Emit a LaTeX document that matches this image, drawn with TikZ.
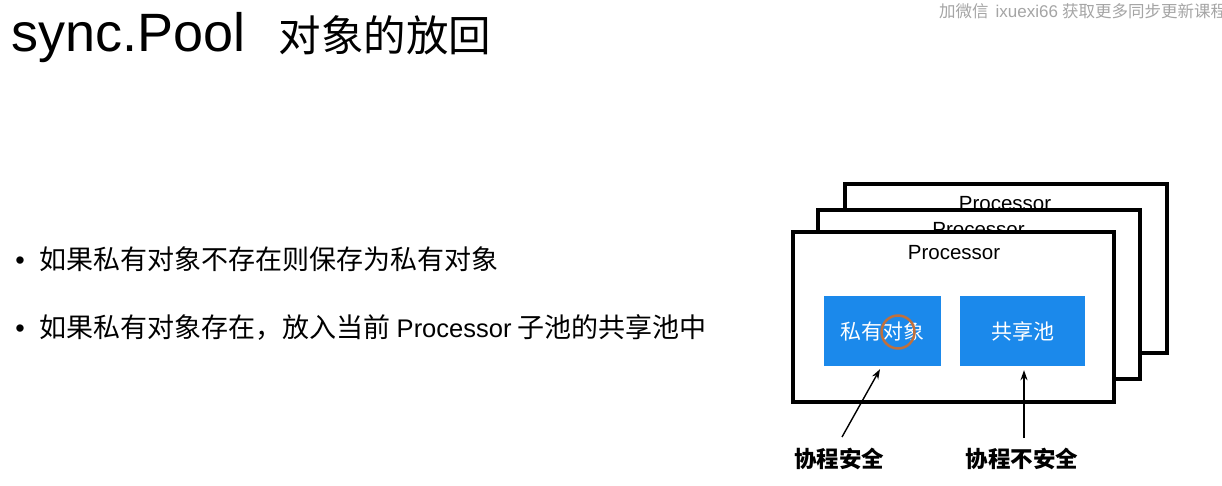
\documentclass[tikz,border=0pt]{standalone}
\usepackage{fontspec}
\setmainfont{Liberation Sans}
\newfontfamily\cjk{Noto Sans CJK SC}
\usetikzlibrary{arrows.meta}
\definecolor{boxblue}{RGB}{27,137,235}
\definecolor{ringcol}{RGB}{190,112,62}
\definecolor{wmcol}{RGB}{165,165,165}
\newcommand{\fs}[1]{\fontsize{#1}{#1}\selectfont}
\begin{document}
\begin{tikzpicture}[x=1pt,y=-1pt,
  procbox/.style={draw=black,line width=3.2pt,fill=white,minimum width=322pt,minimum height=169pt,inner sep=0pt},
  proclabel/.style={font=\fs{20.5},inner sep=0pt},
  bluebox/.style={fill=boxblue,text=white,font=\cjk\fs{21},minimum height=70pt,inner sep=0pt},
  safelabel/.style={font=\cjk\bfseries\fs{22.5},inner sep=0pt,anchor=base},
  bullettext/.style={font=\cjk\fs{27},inner sep=0pt,anchor=base west},
  bulletdot/.style={font=\fs{27},inner sep=0pt,anchor=base},
  arr/.style={-{Stealth[length=10pt,width=7pt]},line width=1.4pt}]
\useasboundingbox (0,0) rectangle (1222,486);
\fill[white] (0,0) rectangle (1222,486);

% title
\node[anchor=base west,inner sep=0pt] (title) at (11.5,52) {\fs{54}sync.Pool\hspace{33pt}{\cjk\fs{42.5}对象的放回}};

% watermark (cut off at the right edge, as in the slide)
\begin{scope}
\clip (0,0) rectangle (1222,486);
\node[anchor=base west,inner sep=0pt,text=wmcol] (wm) at (939,17.7) {\cjk\fs{16.5}加微信\hspace{7pt}{\normalfont\fs{17}ixuexi66}\hspace{4pt}获取更多同步更新课程};
\end{scope}

% bullets
\node[bulletdot] (d1) at (20,269.5) {•};
\node[bullettext] (t1) at (39.5,269.5) {如果私有对象不存在则保存为私有对象};
\node[bulletdot] (d2) at (20,337.5) {•};
\node[bullettext] (t2) at (39.5,337.5) {如果私有对象存在，放入当前 {\normalfont\fs{25.5}Processor} 子池的共享池中};

% processor stack
\node[procbox] (p3) at (1006,268.5) {};
\node[proclabel] (l3) at (1005,204) {Processor};
\node[procbox] (p2) at (979,294.5) {};
\node[proclabel] (l2) at (978.5,229.7) {Processor};
\node[procbox,minimum width=321pt,minimum height=170pt] (p1) at (953.5,317) {};
\node[proclabel] (l1) at (954,253) {Processor};

% inner boxes
\node[bluebox,minimum width=117pt] (b1) at (882.5,331) {私有对象};
\node[bluebox,minimum width=125pt] (b2) at (1022.5,331) {共享池};
\node[draw=ringcol,line width=2.5pt,circle,minimum size=33pt,inner sep=0pt] (hl) at (898,332) {};

% labels and arrows
\node[safelabel] (s1) at (839,467.5) {协程安全};
\node[safelabel] (s2) at (1022,467.5) {协程不安全};
\coordinate (a1) at (842,437);
\coordinate (a2) at (1024,438);
\draw[arr] (a1) -- ([shift={(-2.5,3)}]b1.south);
\draw[arr] (a2) -- ([shift={(1.5,4)}]b2.south);
\end{tikzpicture}
\end{document}
